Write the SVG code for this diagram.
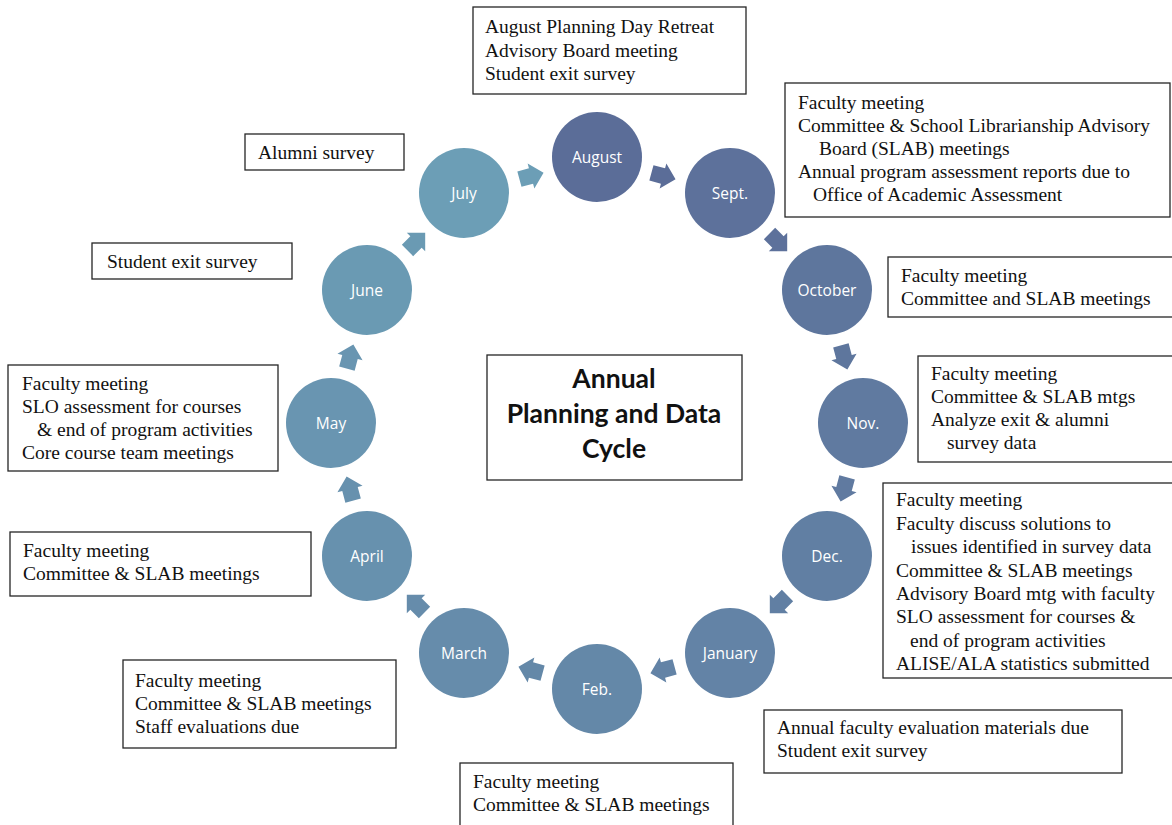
<svg xmlns="http://www.w3.org/2000/svg" width="1172" height="825" viewBox="0 0 1172 825">
<style>
.box{fill:#fff;stroke:#262626;stroke-width:1.3}
.t{font-family:"Liberation Serif","Times New Roman",serif;font-size:19.5px;fill:#111}
.m{font-family:"Open Sans","Noto Sans",sans-serif;font-size:15.5px;fill:#fff;text-anchor:middle}
.title{font-family:Lato,"Open Sans",sans-serif;font-weight:bold;font-size:26.5px;fill:#111;text-anchor:middle}
</style>
<defs>
<polygon id="arr" points="-12,-8 0,-8 0,-13 13,0 0,13 0,8 -12,8"/>
</defs>
<rect width="1172" height="825" fill="#fff"/>

<g id="connectors">
<use href="#arr" fill="#5b6d98" transform="translate(663,176) rotate(15)"/>
<use href="#arr" fill="#5d719b" transform="translate(778,242) rotate(45)"/>
<use href="#arr" fill="#5e769d" transform="translate(844,357) rotate(75)"/>
<use href="#arr" fill="#607aa0" transform="translate(844,489) rotate(105)"/>
<use href="#arr" fill="#617fa3" transform="translate(779,604) rotate(135)"/>
<use href="#arr" fill="#6383a6" transform="translate(663,670) rotate(165)"/>
<use href="#arr" fill="#6488a8" transform="translate(531,670) rotate(195)"/>
<use href="#arr" fill="#668cab" transform="translate(416,604) rotate(225)"/>
<use href="#arr" fill="#6791ae" transform="translate(350,489) rotate(255)"/>
<use href="#arr" fill="#6995b1" transform="translate(350,357) rotate(285)"/>
<use href="#arr" fill="#6a9ab3" transform="translate(416,242) rotate(315)"/>
<use href="#arr" fill="#6c9eb6" transform="translate(531,176) rotate(345)"/>
</g>

<g id="aug"><circle cx="597" cy="157" r="45" fill="#5b6d98"/><text class="m" x="597" y="162.5">August</text></g>
<g id="sep"><circle cx="730" cy="193" r="45" fill="#5d719b"/><text class="m" x="730" y="198.5">Sept.</text></g>
<g id="oct"><circle cx="827" cy="290" r="45" fill="#5e769d"/><text class="m" x="827" y="295.5">October</text></g>
<g id="nov"><circle cx="863" cy="423" r="45" fill="#607aa0"/><text class="m" x="863" y="428.5">Nov.</text></g>
<g id="dec"><circle cx="827" cy="556" r="45" fill="#617fa3"/><text class="m" x="827" y="561.5">Dec.</text></g>
<g id="jan"><circle cx="730" cy="653" r="45" fill="#6383a6"/><text class="m" x="730" y="658.5">January</text></g>
<g id="feb"><circle cx="597" cy="689" r="45" fill="#6488a8"/><text class="m" x="597" y="694.5">Feb.</text></g>
<g id="mar"><circle cx="464" cy="653" r="45" fill="#668cab"/><text class="m" x="464" y="658.5">March</text></g>
<g id="apr"><circle cx="367" cy="556" r="45" fill="#6791ae"/><text class="m" x="367" y="561.5">April</text></g>
<g id="may"><circle cx="331" cy="423" r="45" fill="#6995b1"/><text class="m" x="331" y="428.5">May</text></g>
<g id="jun"><circle cx="367" cy="290" r="45" fill="#6a9ab3"/><text class="m" x="367" y="295.5">June</text></g>
<g id="jul"><circle cx="464" cy="193" r="45" fill="#6c9eb6"/><text class="m" x="464" y="198.5">July</text></g>

<g id="title"><rect class="box" x="487" y="355" width="255" height="125"/>
<text class="title" x="614" y="388">Annual</text>
<text class="title" x="614" y="423">Planning and Data</text>
<text class="title" x="614" y="458">Cycle</text></g>

<g id="box-aug"><rect class="box" x="473" y="7" width="273" height="87"/>
<text class="t" x="485" y="33">August Planning Day Retreat</text>
<text class="t" x="485" y="56.5">Advisory Board meeting</text>
<text class="t" x="485" y="80">Student exit survey</text></g>

<g id="box-sep"><rect class="box" x="785" y="83" width="385" height="134"/>
<text class="t" x="798" y="109">Faculty meeting</text>
<text class="t" x="798" y="132">Committee &amp; School Librarianship Advisory</text>
<text class="t" x="819" y="155">Board (SLAB) meetings</text>
<text class="t" x="798" y="178">Annual program assessment reports due to</text>
<text class="t" x="813" y="201">Office of Academic Assessment</text></g>

<g id="box-oct"><rect class="box" x="888" y="257" width="290" height="60"/>
<text class="t" x="901" y="282">Faculty meeting</text>
<text class="t" x="901" y="305">Committee and SLAB meetings</text></g>

<g id="box-nov"><rect class="box" x="918" y="356" width="260" height="106"/>
<text class="t" x="931" y="380">Faculty meeting</text>
<text class="t" x="931" y="403">Committee &amp; SLAB mtgs</text>
<text class="t" x="931" y="426">Analyze exit &amp; alumni</text>
<text class="t" x="947" y="449">survey data</text></g>

<g id="box-dec"><rect class="box" x="883" y="483" width="295" height="195"/>
<text class="t" x="896" y="506">Faculty meeting</text>
<text class="t" x="896" y="529.5">Faculty discuss solutions to</text>
<text class="t" x="911" y="553">issues identified in survey data</text>
<text class="t" x="896" y="576.5">Committee &amp; SLAB meetings</text>
<text class="t" x="896" y="600">Advisory Board mtg with faculty</text>
<text class="t" x="896" y="623">SLO assessment for courses &amp;</text>
<text class="t" x="910" y="646.5">end of program activities</text>
<text class="t" x="896" y="670">ALISE/ALA statistics submitted</text></g>

<g id="box-jan"><rect class="box" x="764" y="710" width="358" height="63"/>
<text class="t" x="777" y="734">Annual faculty evaluation materials due</text>
<text class="t" x="777" y="757">Student exit survey</text></g>

<g id="box-feb"><rect class="box" x="460" y="763" width="273" height="70"/>
<text class="t" x="473" y="788">Faculty meeting</text>
<text class="t" x="473" y="811">Committee &amp; SLAB meetings</text></g>

<g id="box-mar"><rect class="box" x="123" y="660" width="273" height="88"/>
<text class="t" x="135" y="687">Faculty meeting</text>
<text class="t" x="135" y="710">Committee &amp; SLAB meetings</text>
<text class="t" x="135" y="733">Staff evaluations due</text></g>

<g id="box-apr"><rect class="box" x="10" y="532" width="301" height="64"/>
<text class="t" x="23" y="557">Faculty meeting</text>
<text class="t" x="23" y="580">Committee &amp; SLAB meetings</text></g>

<g id="box-may"><rect class="box" x="8" y="365" width="270" height="106"/>
<text class="t" x="22" y="390">Faculty meeting</text>
<text class="t" x="22" y="413">SLO assessment for courses</text>
<text class="t" x="37" y="436">&amp; end of program activities</text>
<text class="t" x="22" y="459">Core course team meetings</text></g>

<g id="box-jun"><rect class="box" x="92" y="243" width="200" height="36"/>
<text class="t" x="107" y="268">Student exit survey</text></g>

<g id="box-jul"><rect class="box" x="245" y="134" width="159" height="36"/>
<text class="t" x="258" y="159">Alumni survey</text></g>
</svg>
